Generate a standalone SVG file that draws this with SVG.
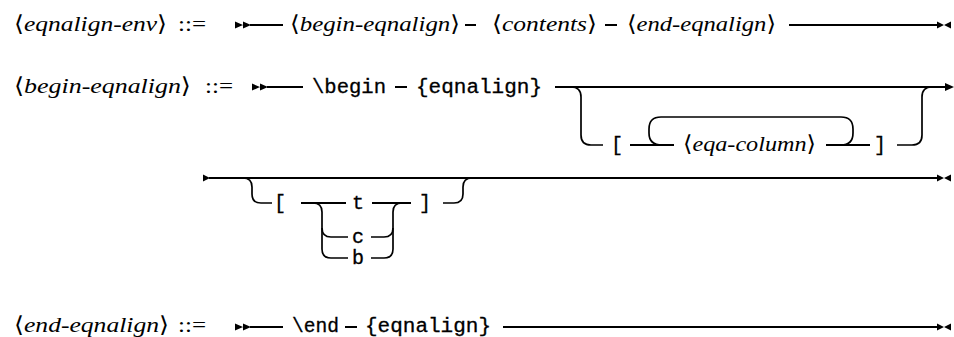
<svg xmlns="http://www.w3.org/2000/svg" width="954" height="337" viewBox="0 0 954 337">
<defs>
<style>
.ln{fill:none;stroke:#000;stroke-width:2}
.cv{fill:none;stroke:#000;stroke-width:1.7}
.nt{font-family:"Liberation Serif","Times New Roman","DejaVu Serif",serif;font-style:italic;font-size:22px;fill:#000}
.ab{font-style:normal;font-family:"DejaVu Serif","Liberation Serif",serif}
.op{font-family:"Liberation Serif","DejaVu Serif",serif;font-size:22px;fill:#000}
.tt{font-family:"Liberation Mono","DejaVu Sans Mono",monospace;font-size:20px;fill:#000;stroke:#000;stroke-width:0.3}
.tc{text-anchor:middle}
</style>
<path id="dstart" d="M0,-3.5 L8,0 L0,3.5 Z M8,-3.5 L16,0 L8,3.5 Z"/>
<path id="sstart" d="M0,-3.5 L7,0 L0,3.5 Z"/>
<path id="dend" d="M0,-3.5 L7,0 L0,3.5 Z M14,-3.5 L7,0 L14,3.5 Z"/>
<path id="arrowR" d="M0,-4 L9,0 L0,4 Z"/>
</defs>

<g id="connectors">
  <!-- row 1 -->
  <use href="#dstart" x="235" y="25"/>
  <line class="ln" x1="250" y1="25" x2="283" y2="25"/>
  <line class="ln" x1="465" y1="25" x2="476" y2="25"/>
  <line class="ln" x1="605" y1="25" x2="617" y2="25"/>
  <line class="ln" x1="789" y1="25" x2="938" y2="25"/>
  <use href="#dend" x="937" y="25"/>
  <!-- row 2 -->
  <use href="#dstart" x="252" y="87"/>
  <line class="ln" x1="267" y1="87" x2="303" y2="87"/>
  <line class="ln" x1="395" y1="87" x2="407" y2="87"/>
  <line class="ln" x1="555" y1="87" x2="946" y2="87"/>
  <use href="#arrowR" x="945" y="87"/>
  <path class="cv" d="M571 87 Q581 87 581 97 L581 135 Q581 145 591 145 L603 145"/>
  <line class="ln" x1="630" y1="145" x2="674" y2="145"/>
  <path class="cv" d="M662 145 Q649 145 649 133 L649 129 Q649 117 661 117 L841 117 Q853 117 853 129 L853 133 Q853 145 841 145"/>
  <line class="ln" x1="826" y1="145" x2="870" y2="145"/>
  <path class="cv" d="M897 145 L912 145 Q922 145 922 135 L922 97 Q922 87 932 87"/>
  <!-- row 3 -->
  <use href="#sstart" x="203" y="178"/>
  <line class="ln" x1="209" y1="178" x2="938" y2="178"/>
  <use href="#dend" x="937" y="178"/>
  <path class="cv" d="M243 178 Q252 178 252 187 L252 194 Q252 203 261 203 L272 203"/>
  <line class="ln" x1="301" y1="203" x2="346" y2="203"/>
  <line class="ln" x1="372" y1="203" x2="411" y2="203"/>
  <path class="cv" d="M313 203 Q322 203 322 212 L322 249 Q322 258 331 258 L348 258"/>
  <path class="cv" d="M322 228 Q322 237 331 237 L348 237"/>
  <path class="cv" d="M371 258 L384 258 Q393 258 393 249 L393 212 Q393 203 402 203"/>
  <path class="cv" d="M371 237 L384 237 Q393 237 393 228"/>
  <path class="cv" d="M443 203 L454 203 Q463 203 463 194 L463 187 Q463 178 472 178"/>
  <!-- row 4 -->
  <use href="#dstart" x="235" y="327"/>
  <line class="ln" x1="250" y1="327" x2="283" y2="327"/>
  <line class="ln" x1="345" y1="327" x2="357" y2="327"/>
  <line class="ln" x1="503" y1="327" x2="938" y2="327"/>
  <use href="#dend" x="937" y="327"/>
</g>

<!-- row 1 -->
<g id="lhs-eqnalign-env"><text class="nt" x="14" y="31" textLength="153" lengthAdjust="spacingAndGlyphs"><tspan class="ab">⟨</tspan>eqnalign-env<tspan class="ab">⟩</tspan></text></g>
<g id="def1"><text class="op" x="178" y="31" textLength="28" lengthAdjust="spacingAndGlyphs">::=</text></g>
<g id="r1-begin-eqnalign"><text class="nt" x="290" y="31" textLength="170" lengthAdjust="spacingAndGlyphs"><tspan class="ab">⟨</tspan>begin-eqnalign<tspan class="ab">⟩</tspan></text></g>
<g id="r1-contents"><text class="nt" x="492" y="31" textLength="105" lengthAdjust="spacingAndGlyphs"><tspan class="ab">⟨</tspan>contents<tspan class="ab">⟩</tspan></text></g>
<g id="r1-end-eqnalign"><text class="nt" x="627" y="31" textLength="149" lengthAdjust="spacingAndGlyphs"><tspan class="ab">⟨</tspan>end-eqnalign<tspan class="ab">⟩</tspan></text></g>

<!-- row 2 -->
<g id="lhs-begin-eqnalign"><text class="nt" x="14" y="93" textLength="177" lengthAdjust="spacingAndGlyphs"><tspan class="ab">⟨</tspan>begin-eqnalign<tspan class="ab">⟩</tspan></text></g>
<g id="def2"><text class="op" x="205" y="93" textLength="28" lengthAdjust="spacingAndGlyphs">::=</text></g>
<g id="r2-begin"><text class="tt" x="312" y="93" textLength="74" lengthAdjust="spacingAndGlyphs">\begin</text></g>
<g id="r2-eqnalign"><text class="tt" x="416" y="93" textLength="126" lengthAdjust="spacingAndGlyphs">{eqnalign}</text></g>
<g id="r2-lbrack"><text class="tt tc" x="617" y="151">[</text></g>
<g id="r2-eqa-column"><text class="nt" x="683" y="151" textLength="133" lengthAdjust="spacingAndGlyphs"><tspan class="ab">⟨</tspan>eqa-column<tspan class="ab">⟩</tspan></text></g>
<g id="r2-rbrack"><text class="tt tc" x="880" y="151">]</text></g>

<!-- row 3 -->
<g id="r3-lbrack"><text class="tt tc" x="280" y="209">[</text></g>
<g id="r3-t"><text class="tt tc" x="358" y="209">t</text></g>
<g id="r3-c"><text class="tt tc" x="358" y="243">c</text></g>
<g id="r3-b"><text class="tt tc" x="358" y="264">b</text></g>
<g id="r3-rbrack"><text class="tt tc" x="425" y="209">]</text></g>

<!-- row 4 -->
<g id="lhs-end-eqnalign"><text class="nt" x="14" y="332" textLength="155" lengthAdjust="spacingAndGlyphs"><tspan class="ab">⟨</tspan>end-eqnalign<tspan class="ab">⟩</tspan></text></g>
<g id="def4"><text class="op" x="178" y="332" textLength="28" lengthAdjust="spacingAndGlyphs">::=</text></g>
<g id="r4-end"><text class="tt" x="292" y="332" textLength="47" lengthAdjust="spacingAndGlyphs">\end</text></g>
<g id="r4-eqnalign"><text class="tt" x="365" y="332" textLength="126" lengthAdjust="spacingAndGlyphs">{eqnalign}</text></g>
</svg>
